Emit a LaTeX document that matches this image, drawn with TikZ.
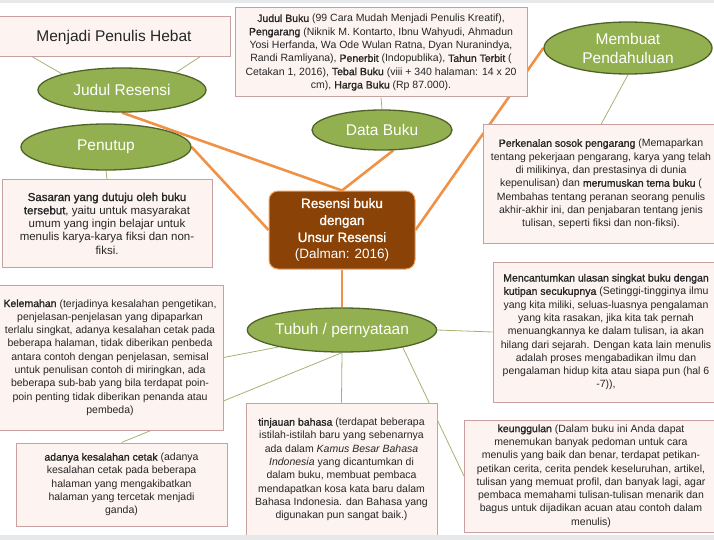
\documentclass[tikz,border=0pt]{standalone}
\usepackage{fontspec}
\setmainfont{Liberation Sans}[BoldFont={Liberation Sans}, BoldFeatures={FakeBold=1.3}]
\usepackage{tikz}
\usetikzlibrary{shapes.geometric,backgrounds}
\definecolor{RBoxFill}{RGB}{253,244,242}
\definecolor{RBoxLine}{RGB}{201,160,160}
\definecolor{RGreen}{RGB}{146,176,80}
\definecolor{RGreenDark}{RGB}{79,98,40}
\definecolor{RBrown}{RGB}{138,66,6}
\definecolor{ROrange}{RGB}{240,146,70}
\definecolor{RThin}{RGB}{165,178,115}
\definecolor{RText}{RGB}{38,38,38}
\definecolor{RBand}{RGB}{230,232,234}

\begin{document}
\begin{tikzpicture}[x=1pt,y=-1pt,
    infobox/.style={rectangle, draw=RBoxLine, line width=1pt, fill=RBoxFill, inner sep=2pt,
        align=center, text=RText, font=\fontsize{10.5}{13.3}\selectfont},
    topic/.style={ellipse, draw=RGreenDark, line width=1.3pt, fill=RGreen, inner sep=0pt,
        align=center, text=white, font=\fontsize{15.5}{19}\selectfont},
    mainlink/.style={ROrange, line width=2.6pt},
    sublink/.style={RThin, line width=0.8pt}]
    \useasboundingbox (0,0) rectangle (714,540);

    % central node
    \node[rectangle, rounded corners=9pt, draw=ROrange!85, line width=1pt, fill=RBrown, text=white,
        minimum width=146pt, minimum height=78pt, align=center, font=\fontsize{13.5}{17}\selectfont]
        (central) at (342,230) {\textbf{Resensi buku}\\\textbf{dengan}\\\textbf{Unsur Resensi}\\(Dalman: 2016)};

    % green topics
    \node[topic, minimum width=168pt, minimum height=44pt] (judul) at (122,90) {Judul Resensi};
    \node[topic, minimum width=170pt, minimum height=46pt] (penutup) at (106,147) {Penutup};
    \node[topic, minimum width=140pt, minimum height=40pt] (data) at (382,130) {Data Buku};
    \node[topic, minimum width=168pt, minimum height=52pt] (pendahuluan) at (628,48) {Membuat\\Pendahuluan};
    \node[topic, minimum width=170pt, minimum height=44pt] (tubuh) at (342,330) {Tubuh / pernyataan};

    % text boxes
    \node[infobox, minimum width=232pt, minimum height=40pt, font=\fontsize{15.5}{19}\selectfont]
        (hebat) at (114,37) {Menjadi Penulis Hebat};
    \node[infobox, minimum width=292pt, minimum height=89pt] (databox) at (381,52.5)
        {\textbf{Judul Buku} (99 Cara Mudah Menjadi Penulis Kreatif),\\
        \textbf{Pengarang} (Niknik M. Kontarto, Ibnu Wahyudi, Ahmadun\\
        Yosi Herfanda, Wa Ode Wulan Ratna, Dyan Nuranindya,\\
        Randi Ramliyana), \textbf{Penerbit} (Indopublika), \textbf{Tahun Terbit} (\\
        Cetakan 1, 2016), \textbf{Tebal Buku} (viii + 340 halaman: 14 x 20\\
        cm), \textbf{Harga Buku} (Rp 87.000).};
    \node[infobox, minimum width=236pt, minimum height=118pt] (perkenalan) at (601,184)
        {\textbf{Perkenalan sosok pengarang} (Memaparkan\\
        tentang pekerjaan pengarang, karya yang telah\\
        di milikinya, dan prestasinya di dunia\\
        kepenulisan) dan \textbf{merumuskan tema buku} (\\
        Membahas tentang peranan seorang penulis\\
        akhir-akhir ini, dan penjabaran tentang jenis\\
        tulisan, seperti fiksi dan non-fiksi).};
    \node[infobox, minimum width=210pt, minimum height=87pt, font=\fontsize{11.5}{13.3}\selectfont]
        (sasaran) at (107,223.5)
        {\textbf{Sasaran yang dutuju oleh buku}\\
        \textbf{tersebut}, yaitu untuk masyarakat\\
        umum yang ingin belajar untuk\\
        menulis karya-karya fiksi dan non-\\
        fiksi.};
    \node[infobox, minimum width=226pt, minimum height=145pt] (kelemahan) at (110,357.5)
        {\textbf{Kelemahan} (terjadinya kesalahan pengetikan,\\
        penjelasan-penjelasan yang dipaparkan\\
        terlalu singkat, adanya kesalahan cetak pada\\
        beberapa halaman, tidak diberikan penbeda\\
        antara contoh dengan penjelasan, semisal\\
        untuk penulisan contoh di miringkan, ada\\
        beberapa sub-bab yang bila terdapat poin-\\
        poin penting tidak diberikan penanda atau\\
        pembeda)};
    \node[infobox, minimum width=226pt, minimum height=140pt] (ulasan) at (606,332)
        {\textbf{Mencantumkan ulasan singkat buku dengan}\\
        \textbf{kutipan secukupnya} (Setinggi-tingginya ilmu\\
        yang kita miliki, seluas-luasnya pengalaman\\
        yang kita rasakan, jika kita tak pernah\\
        menuangkannya ke dalam tulisan, ia akan\\
        hilang dari sejarah. Dengan kata lain menulis\\
        adalah proses mengabadikan ilmu dan\\
        pengalaman hidup kita atau siapa pun (hal 6\\
        -7)),};
    \node[infobox, minimum width=211pt, minimum height=83pt] (cetak) at (121.5,484.5)
        {\textbf{adanya kesalahan cetak} (adanya\\
        kesalahan cetak pada beberapa\\
        halaman yang mengakibatkan\\
        halaman yang tercetak menjadi\\
        ganda)};
    \node[infobox, minimum width=191pt, minimum height=133pt] (bahasa) at (341.5,469.5)
        {\textbf{tinjauan bahasa} (terdapat beberapa\\
        istilah-istilah baru yang sebenarnya\\
        ada dalam \textit{Kamus Besar Bahasa}\\
        \textit{Indonesia} yang dicantumkan di\\
        dalam buku, membuat pembaca\\
        mendapatkan kosa kata baru dalam\\
        Bahasa Indonesia. dan Bahasa yang\\
        digunakan pun sangat baik.)};
    \node[infobox, minimum width=253pt, minimum height=112pt] (keunggulan) at (591,476)
        {\textbf{keunggulan} (Dalam buku ini Anda dapat\\
        menemukan banyak pedoman untuk cara\\
        menulis yang baik dan benar, terdapat petikan-\\
        petikan cerita, cerita pendek keseluruhan, artikel,\\
        tulisan yang memuat profil, dan banyak lagi, agar\\
        pembaca memahami tulisan-tulisan menarik dan\\
        bagus untuk dijadikan acuan atau contoh dalam\\
        menulis)};

    % connectors
    \begin{scope}[on background layer]
        \draw[mainlink] (judul.south) -- (central.north);
        \draw[mainlink] (data.-61) -- (central.north);
        \draw[mainlink] (penutup.east) -- (central.west);
        \draw[mainlink] (pendahuluan.west) -- (central.east);
        \draw[mainlink] (central.south) -- (tubuh.north);
        \draw[sublink] (hebat.west) -- (judul.165);
        \draw[sublink] (hebat.east) -- (judul.18);
        \draw[sublink] (databox.south) -- (data.north);
        \draw[sublink] (pendahuluan.south) -- (perkenalan.north);
        \draw[sublink] (penutup.south) -- (sasaran.north);
        \draw[sublink] (tubuh.195) -- (kelemahan.east);
        \draw[sublink] (tubuh.south) -- (cetak.north);
        \draw[sublink] (tubuh.south) -- (bahasa.north);
        \draw[sublink] (tubuh.-16) -- (keunggulan.west);
        \draw[sublink] (tubuh.east) -- (ulasan.west);
    \end{scope}

    % screen edges
    \fill[RBand] (0,0) rectangle (714,3);
    \fill[RBand] (0,535) rectangle (714,540);
\end{tikzpicture}
\end{document}
